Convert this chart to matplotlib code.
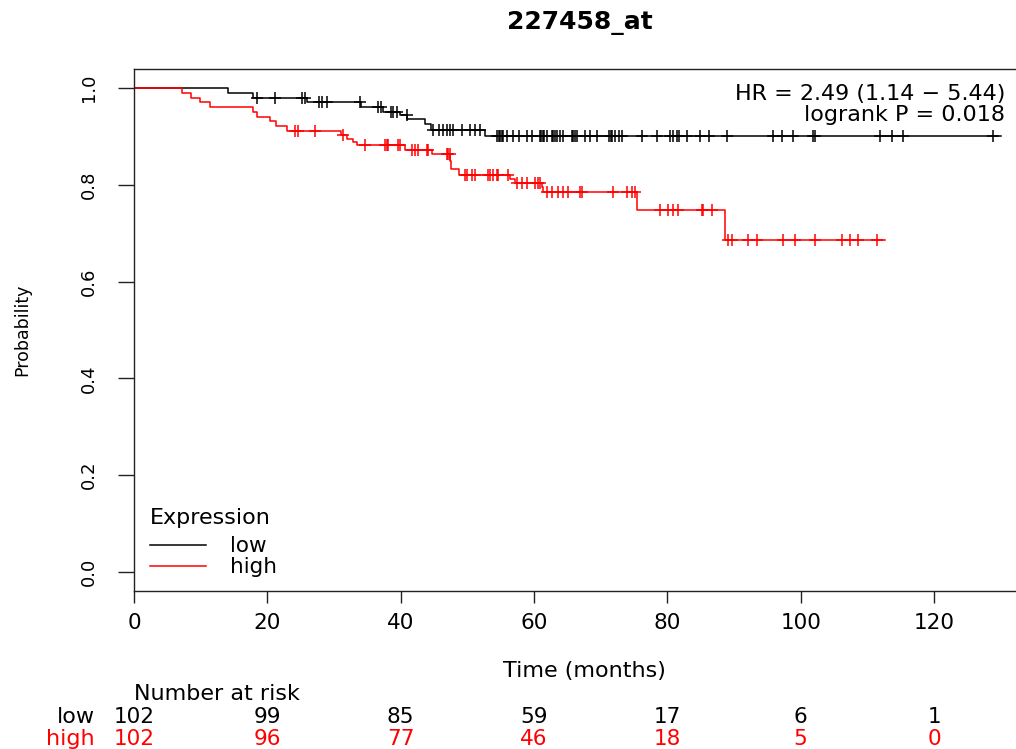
import numpy as np
import matplotlib
matplotlib.use("Agg")
import matplotlib.pyplot as plt
from matplotlib import transforms

plt.rcParams['font.family'] = ['DejaVu Sans']

# ---------------- data ----------------
title = "227458_at"
group_names = ["low", "high"]
group_colors = ["black", "red"]

# low expression group: event times (months) and survival after each event
low_event_times = [14.1, 17.9, 25.9, 34.1, 37.4, 39.9, 41.0, 43.7, 44.5, 52.7]
low_surv = [0.990, 0.980, 0.970, 0.960, 0.951, 0.944, 0.935, 0.926, 0.913, 0.901]
low_censor_times = [18.4, 21.2, 25.2, 25.6, 27.7, 28.2, 28.9, 33.9, 36.6, 37.0,
                    38.5, 38.9, 39.5, 40.9, 44.9, 45.7, 46.4, 46.9, 47.4, 47.9,
                    49.2, 50.4, 51.2, 51.9, 54.4, 54.7, 54.9, 55.2, 55.4, 55.9,
                    56.9, 57.7, 58.9, 59.7, 60.9, 61.1, 61.3, 61.5, 61.9, 62.7,
                    62.9, 63.2, 63.4, 63.9, 64.4, 65.7, 65.9, 66.1, 66.4, 67.7,
                    68.4, 69.4, 71.2, 71.5, 71.7, 72.2, 72.7, 73.2, 76.2, 78.4,
                    80.4, 80.9, 81.4, 81.7, 82.9, 84.9, 86.2, 88.9, 95.9, 97.2,
                    98.9, 101.9, 102.2, 111.9, 113.7, 115.4, 128.8]
low_end = 130.0

# high expression group
high_event_times = [7.15, 8.5, 9.9, 11.4, 17.9, 18.5, 20.4, 21.3, 22.9, 31.1,
                    31.9, 32.9, 33.4, 40.6, 44.65, 47.4, 47.6, 48.8, 56.4, 57.15,
                    61.15, 61.4, 75.5, 88.65]
high_surv = [0.990, 0.980, 0.970, 0.961, 0.951, 0.941, 0.931, 0.922, 0.912, 0.903,
             0.894, 0.888, 0.882, 0.872, 0.864, 0.850, 0.833, 0.820, 0.812, 0.804,
             0.796, 0.786, 0.747, 0.686]
high_censor_times = [24.15, 24.65, 27.15, 31.3, 34.65, 37.65, 37.9, 38.1, 39.65, 39.9,
                     41.65, 42.15, 42.65, 43.9, 44.15, 46.9, 47.15, 47.35, 49.65, 49.9,
                     50.65, 51.15, 53.15, 53.4, 53.9, 54.4, 54.65, 56.15, 57.4, 58.15,
                     58.9, 60.15, 60.65, 60.9, 61.9, 62.65, 63.65, 64.4, 65.15, 66.9,
                     67.15, 71.9, 73.9, 74.65, 75.15, 78.9, 80.15, 80.9, 81.65, 85.15,
                     85.4, 86.65, 89.15, 89.65, 92.15, 93.4, 97.4, 99.15, 102.15, 106.15,
                     107.4, 108.65, 111.4]
high_end = 112.6

risk_times = [0, 20, 40, 60, 80, 100, 120]
low_at_risk = [102, 99, 85, 59, 17, 6, 1]
high_at_risk = [102, 96, 77, 46, 18, 5, 0]

hr_text = "HR = 2.49 (1.14 \u2212 5.44)"
p_text = "logrank P = 0.018"

x_ticks = [0, 20, 40, 60, 80, 100, 120]
y_ticks = [0.0, 0.2, 0.4, 0.6, 0.8, 1.0]

# ---------------- figure ----------------
W, H = 1016, 749
fig = plt.figure(figsize=(W / 100, H / 100), dpi=100)
ax_left_px, ax_right_px, ax_top_px, ax_bot_px = 134, 1034, 68.6, 591.4
ax = fig.add_axes([ax_left_px / W, 1 - ax_bot_px / H,
                   (ax_right_px - ax_left_px) / W, (ax_bot_px - ax_top_px) / H])
ax.set_xlim(0, 135)
ax.set_ylim(-0.04, 1.04)

groups = [
    (low_event_times, low_surv, low_censor_times, low_end),
    (high_event_times, high_surv, high_censor_times, high_end),
]
handles = []
for (ev, sv, cens, end), name, col in zip(groups, group_names, group_colors):
    xs = [0] + list(ev) + [end]
    ys = [1.0] + list(sv) + [sv[-1]]
    line, = ax.step(xs, ys, where='post', color=col, lw=1.1, label=name)
    handles.append(line)
    levels = np.array([1.0] + list(sv))
    idx = np.searchsorted(np.array(ev), np.array(cens), side='right')
    ax.plot(cens, levels[idx], linestyle='none', marker='+', color=col,
            markersize=9, markeredgewidth=1.1)

for s in ax.spines.values():
    s.set_color('#222222')
    s.set_linewidth(1.0)

ax.set_xticks(x_ticks)
ax.set_xticklabels([str(t) for t in x_ticks], fontsize=15.5)
ax.set_yticks(y_ticks)
ax.set_yticklabels([f"{t:.1f}" for t in y_ticks], fontsize=13, rotation=90,
                   va='center')
ax.tick_params(axis='x', length=8.6, width=1.0, pad=7, colors='#222222',
               labelcolor='black')
ax.tick_params(axis='y', length=11.5, width=1.0, pad=14.5, colors='#222222',
               labelcolor='black')

ax.set_xlabel("Time (months)", fontsize=16)
ax.xaxis.set_label_coords(0.5, (ax_bot_px - 677) / (ax_bot_px - ax_top_px))
ax.xaxis.label.set_va('baseline')
ax.set_ylabel("Probability", fontsize=12.5)
ax.yaxis.set_label_coords((22 - ax_left_px) / (ax_right_px - ax_left_px), 0.5)
ax.yaxis.label.set_va('center')

fig.text(580 / W, 1 - 29 / H, title, ha='center', va='baseline',
         fontsize=18, fontweight='bold')

ax.text(1005 / W, 1 - 100 / H, hr_text, transform=fig.transFigure,
        ha='right', va='baseline', fontsize=16)
ax.text(1005 / W, 1 - 121 / H, p_text, transform=fig.transFigure,
        ha='right', va='baseline', fontsize=16)

leg = ax.legend(handles=handles, labels=group_names, title="Expression",
                loc='upper left',
                bbox_to_anchor=((150 - ax_left_px) / (ax_right_px - ax_left_px),
                                (ax_bot_px - 508) / (ax_bot_px - ax_top_px)),
                frameon=False, fontsize=15.5, title_fontsize=16,
                handlelength=2.6, handletextpad=1.1, labelspacing=0.05,
                borderpad=0.0, borderaxespad=0.0, alignment='left')
leg._legend_box.sep = 6
for txt in leg.get_texts():
    txt.set_color('black')

# number at risk table
trans = transforms.blended_transform_factory(ax.transData, fig.transFigure)
ax.text(0, 1 - 700 / H, "Number at risk", transform=trans, ha='left',
        va='baseline', fontsize=16, clip_on=False)
for risk, name, col, base in zip([low_at_risk, high_at_risk], group_names,
                                 group_colors, [723, 745]):
    fig.text(95 / W, 1 - base / H, name, ha='right', va='baseline',
             fontsize=16, color=col)
    for t, n in zip(risk_times, risk):
        ax.text(t, 1 - base / H, str(n), transform=trans, ha='center',
                va='baseline', fontsize=15.5, color=col, clip_on=False)

fig.savefig("out.png", dpi=100)
